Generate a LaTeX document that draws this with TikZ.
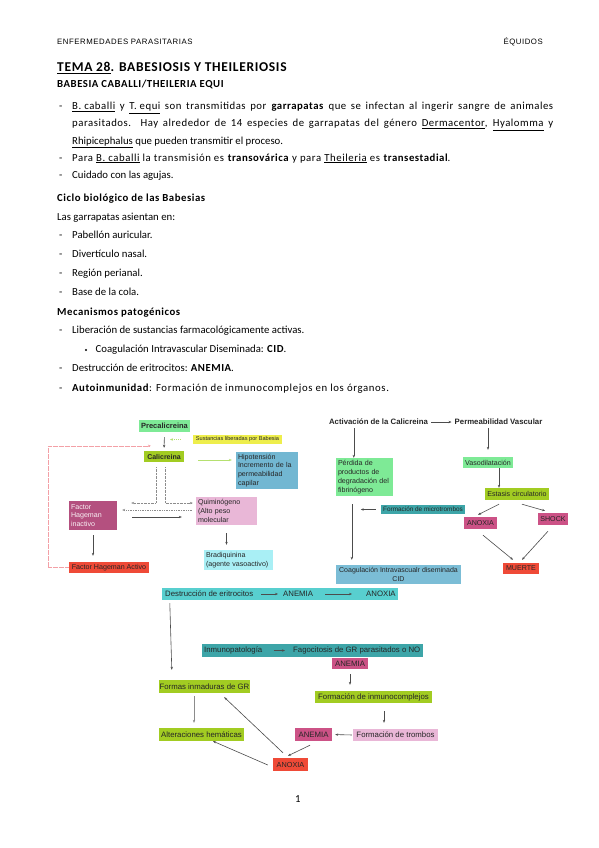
\documentclass[tikz,border=0pt]{standalone}
\usepackage{fontspec}
\setmainfont{Carlito}[BoldFeatures={LetterSpace=5}]
\newfontfamily\diagfamily{Liberation Sans}
\newfontfamily\hdrfamily{Liberation Sans}[LetterSpace=7]
\usetikzlibrary{arrows.meta, calc}
\usepackage{xcolor}

\definecolor{verdeclaro}{HTML}{7EEA96}
\definecolor{amarelo}{HTML}{EEEE4C}
\definecolor{verdelima}{HTML}{A2CC22}
\definecolor{azulaco}{HTML}{72B7D2}
\definecolor{magenta}{HTML}{B4507F}
\definecolor{vermelho}{HTML}{EF4A37}
\definecolor{rosa}{HTML}{E9B7D7}
\definecolor{ciano}{HTML}{A9EFF5}
\definecolor{teal}{HTML}{3DA5A8}
\definecolor{azulcid}{HTML}{7BBDD6}
\definecolor{rosaforte}{HTML}{CC5286}
\definecolor{turquesa}{HTML}{58CFCF}
\definecolor{verdeseta}{HTML}{B5E070}
\definecolor{rosaseta}{HTML}{F3A0A6}

\newcommand{\diag}{\diagfamily\fontsize{7.1}{8.8}\selectfont}
\newcommand{\diagg}{\diagfamily\fontsize{7.8}{9}\selectfont}
\newcommand{\diagb}{\diagfamily\bfseries\fontsize{7.5}{9}\selectfont}
\newcommand{\corpo}{\fontsize{10.75}{13}\selectfont}
\newcommand{\largo}{\addfontfeature{LetterSpace=5}}
\newcommand{\hdr}{\hdrfamily\fontsize{7.8}{9}\selectfont}
\newcommand{\titulo}{\bfseries\fontsize{13.5}{16}\selectfont}

\begin{document}
\begin{tikzpicture}[x=1pt, y=-1pt,
    caixa/.style={inner sep=0pt, font=\diag, text=black!85},
    multi/.style={caixa, align=left},
    txt/.style={anchor=base west, inner sep=0pt, font=\corpo},
    seta/.style={-{Stealth[length=3pt,width=2.4pt]}, draw=black!70, line width=0.6pt},
    pontos/.style={seta, draw=black!45, dash pattern=on 0.7pt off 0.7pt},
    tracos/.style={seta, draw=black!45, dash pattern=on 1.4pt off 1pt}]
    % Fundo
    \fill[white] (0,0) rectangle (599,848);
    \useasboundingbox (0,0) rectangle (599,848);
    % Cabeçalho
    \node[anchor=base west, inner sep=0pt, font=\hdr] (cabl) at (57,44.5) {ENFERMEDADES PARASITARIAS};
    \node[anchor=base east, inner sep=0pt, font=\hdr] (cabr) at (543,44.5) {ÉQUIDOS};
    % Texto
    \node[anchor=base west, inner sep=0pt, font=\titulo] (titulo) at (57,72) {\underline{TEMA 28}. BABESIOSIS Y THEILERIOSIS};
    \node[txt, font=\corpo\bfseries] (sub) at (57,88) {BABESIA CABALLI/THEILERIA EQUI};
    \node[txt] (g1) at (59,110) {-};
    \node[txt, font=\corpo\largo] (l1) at (72,110) {\makebox[481pt][s]{\underline{B. caballi} y \underline{T. equi} son transmitidas por \textbf{garrapatas} que se infectan al ingerir sangre de animales}};
    \node[txt, font=\corpo\largo] (l2) at (72,127) {\makebox[481pt][s]{parasitados.\ \ Hay alrededor de 14 especies de garrapatas del género \underline{Dermacentor}, \underline{Hyalomma} y}};
    \node[txt] (l3) at (72,144) {\underline{Rhipicephalus} que pueden transmitir el proceso.};
    \node[txt] (g2) at (59,161) {-};
    \node[txt, font=\corpo\addfontfeature{LetterSpace=5.5}] (l4) at (72,161) {Para \underline{B. caballi} la transmisión es \textbf{transovárica} y para \underline{Theileria} es \textbf{transestadial}.};
    \node[txt] (g3) at (59,178.5) {-};
    \node[txt] (l5) at (72,178.5) {Cuidado con las agujas.};
    \node[txt, font=\corpo\bfseries] (ciclo) at (57,201.5) {Ciclo biológico de las Babesias};
    \node[txt] (l6) at (57,220) {Las garrapatas asientan en:};
    \node[txt] (g4) at (59,238.5) {-};
    \node[txt] (l7) at (72,238.5) {Pabellón auricular.};
    \node[txt] (g5) at (59,257) {-};
    \node[txt] (l8) at (72,257) {Divertículo nasal.};
    \node[txt] (g6) at (59,276) {-};
    \node[txt] (l9) at (72,276) {Región perianal.};
    \node[txt] (g7) at (59,295) {-};
    \node[txt] (l10) at (72,295) {Base de la cola.};
    \node[txt, font=\corpo\bfseries] (meca) at (57,315) {Mecanismos patogénicos};
    \node[txt] (g8) at (59,333.5) {-};
    \node[txt] (l11) at (72,333.5) {Liberación de sustancias farmacológicamente activas.};
    \fill (86,350) circle (1.1pt);
    \node[txt] (l12) at (95.5,352.5) {Coagulación Intravascular Diseminada: \textbf{CID}.};
    \node[txt] (g9) at (59,371.5) {-};
    \node[txt] (l13) at (72,371.5) {Destrucción de eritrocitos: \textbf{ANEMIA}.};
    \node[txt] (g10) at (59,391) {-};
    \node[txt, font=\corpo\addfontfeature{LetterSpace=6}] (l14) at (72,391) {\textbf{Autoinmunidad}: Formación de inmunocomplejos en los órganos.};
    % Calicreina
    \node[caixa, fill=verdeclaro, minimum width=51pt, minimum height=12pt, font=\diagb] (precal) at (164.5,426) {Precalicreina};
    \node[caixa, fill=amarelo, minimum width=89pt, minimum height=9pt, font=\diagfamily\fontsize{5.6}{6}\selectfont] (sust) at (237.5,439.5) {Sustancias liberadas por Babesia};
    \node[caixa, fill=verdelima, minimum width=40pt, minimum height=11pt, font=\diagfamily\bfseries\fontsize{7}{8}\selectfont] (calic) at (164,456.5) {Calicreina};
    \node[multi, fill=azulaco, minimum width=62pt, minimum height=37pt, text width=58pt] (hipo) at (267,470.5) {Hipotensión\\Incremento de la\\permeabilidad\\capilar};
    \node[multi, fill=magenta, text=white!92!magenta, minimum width=48pt, minimum height=29pt, text width=44pt] (fhi) at (93,515.5) {Factor\\Hageman\\inactivo};
    \node[caixa, fill=vermelho, minimum width=80pt, minimum height=11pt] (fha) at (109,567.5) {Factor Hageman Activo};
    \node[multi, fill=rosa, minimum width=61pt, minimum height=28pt, text width=57pt] (quim) at (226.5,511) {Quiminógeno\\(Alto peso\\molecular};
    \node[multi, fill=ciano, minimum width=69pt, minimum height=20pt, text width=65pt] (bradi) at (238.5,560) {Bradiquinina\\(agente vasoactivo)};
    \coordinate (sustend) at (170,439.5);
    \coordinate (pinkend) at ($(calic.north west)+(7,-5)$);
    \draw[seta, shorten <=5pt, shorten >=3pt] (precal.south) -- (calic.north);
    \draw[seta, draw=verdeseta, dash pattern=on 1pt off 1pt, shorten <=12pt] (sust.west) -- (sustend);
    \draw[seta, draw=verdeseta, line width=0.8pt, shorten <=14pt, shorten >=4pt] ($(calic.east)+(0,3.5)$) -- ($(hipo.west)+(0,-10.5)$);
    \draw[seta, draw=rosaseta, line width=0.5pt, dash pattern=on 0.6pt off 0.6pt] (fha.west) -- ++(-21,0) |- (pinkend);
    \draw[pontos] ($(calic.south)+(-8,5)$) |- ($(fhi.east)+(14,-12.5)$);
    \draw[pontos] ($(calic.south)+(1,5)$) |- ($(quim.west)+(-3,-8)$);
    \draw[tracos] ($(quim.west)+(-4,-1)$) -- ($(fhi.east)+(5,-5.5)$);
    \draw[seta] ($(fhi.east)+(15,1.5)$) -- ($(quim.west)+(-14,6)$);
    \draw[seta, shorten <=5pt, shorten >=6pt] (fhi.south) -- (fhi.south |- fha.north);
    \draw[seta, shorten <=8pt, shorten >=5pt] (quim.south) -- (quim.south |- bradi.north);
    % Permeabilidad vascular
    \node[caixa, font=\diagfamily\bfseries\fontsize{7.8}{9}\selectfont] (activ) at (378.5,422) {Activación de la Calicreina};
    \node[caixa, font=\diagfamily\bfseries\fontsize{7.8}{9}\selectfont] (perm) at (498.5,422) {Permeabilidad Vascular};
    \node[multi, fill=verdeclaro, minimum width=57pt, minimum height=38pt, text width=53pt] (perdida) at (364.5,477) {Pérdida de\\productos de\\degradación del\\fibrinógeno};
    \node[caixa, fill=teal, minimum width=84pt, minimum height=9pt, font=\diagfamily\fontsize{6.4}{7}\selectfont] (micro) at (423,509.5) {Formación de microtrombos};
    \node[caixa, fill=azulcid, minimum width=125pt, minimum height=19pt, align=center, font=\diagfamily\fontsize{7}{8.5}\selectfont] (coag) at (398.5,574.5) {Coagulación Intravascualr diseminada\\CID};
    \node[caixa, fill=verdeclaro, minimum width=50pt, minimum height=11pt] (vaso) at (488,462.5) {Vasodilatación};
    \node[caixa, fill=verdelima, minimum width=64pt, minimum height=12pt] (estasis) at (517,494) {Estasis circulatorio};
    \node[caixa, fill=rosaforte, minimum width=33pt, minimum height=12pt] (anoxia1) at (480.5,523) {ANOXIA};
    \node[caixa, fill=rosaforte, minimum width=30pt, minimum height=12pt] (shock) at (553,519) {SHOCK};
    \node[caixa, fill=vermelho, minimum width=36pt, minimum height=11pt] (muerte) at (521,568.5) {MUERTE};
    \coordinate (pA) at ($(perdida.north west)+(18,0)$);
    \coordinate (pB) at ($(perdida.south west)+(16,0)$);
    \coordinate (vB) at ($(vaso.south)+(11,0)$);
    \draw[seta, shorten <=3pt, shorten >=3pt] (activ.east) -- (perm.west);
    \draw[seta, shorten <=3pt] (pA |- activ.south) -- (pA);
    \draw[seta, shorten <=8pt, shorten >=5pt] (pB) -- (pB |- coag.north);
    \draw[seta, shorten <=5pt] (micro.west) -- ($(pB |- micro.west)+(9,0)$);
    \draw[seta, shorten <=3pt, shorten >=7pt] (perm.south -| vaso.north) -- (vaso.north);
    \draw[seta] (vB) -- (vB |- estasis.north);
    \draw[seta] ($(estasis.south)+(-18,4)$) -- ($(anoxia1.north)+(-2.5,-2)$);
    \draw[seta] ($(estasis.south)+(5,4)$) -- ($(shock.north)+(-8,-2)$);
    \draw[seta] ($(anoxia1.south)+(2.5,6)$) -- ($(muerte.north)+(-8,-3)$);
    \draw[seta] ($(shock.south)+(-5,6)$) -- ($(muerte.north)+(1,-3)$);
    % Destruccion de eritrocitos
    \node[caixa, fill=turquesa, minimum width=236pt, minimum height=12pt] (destr) at (280,594) {};
    \node[caixa, anchor=west, font=\diagg] (d1) at (165,594) {Destrucción de eritrocitos};
    \node[caixa, anchor=west, font=\diagg] (d2) at (283,594) {ANEMIA};
    \node[caixa, anchor=west, font=\diagg] (d3) at (366,594) {ANOXIA};
    \draw[seta, line width=0.5pt, shorten <=8pt, shorten >=5pt] (d1.east) -- (d2.west);
    \draw[seta, line width=0.5pt, shorten <=12pt, shorten >=14pt] (d2.east) -- (d3.west);
    % Inmunopatologia
    \node[caixa, fill=teal, minimum width=221pt, minimum height=13pt] (inmuno) at (312.5,650.5) {};
    \node[caixa, anchor=west, font=\diagg] (i1) at (204,650.5) {Inmunopatología};
    \node[caixa, anchor=west, font=\diagg] (i2) at (293,650.5) {Fagocitosis de GR parasitados o NO};
    \draw[seta, line width=0.5pt, shorten <=11pt, shorten >=8pt] (i1.east) -- (i2.west);
    \node[caixa, fill=rosaforte, minimum width=36pt, minimum height=11pt, font=\diagg] (anemia1) at (350,663.5) {ANEMIA};
    \node[caixa, fill=verdelima, minimum width=91pt, minimum height=13pt, font=\diagg] (formas) at (204.5,686.5) {Formas inmaduras de GR};
    \node[caixa, fill=verdelima, minimum width=117pt, minimum height=12pt, font=\diagg] (inmcomp) at (373.5,697) {Formación de inmunocomplejos};
    \node[caixa, fill=verdelima, minimum width=85pt, minimum height=13pt, font=\diagg] (alter) at (201.5,734.5) {Alteraciones hemáticas};
    \node[caixa, fill=rosaforte, minimum width=37pt, minimum height=13pt, font=\diagg] (anemia2) at (313.5,734.5) {ANEMIA};
    \node[caixa, fill=rosa, minimum width=85pt, minimum height=12pt, font=\diagg] (trombos) at (395.5,735) {Formación de trombos};
    \node[caixa, fill=vermelho, minimum width=35pt, minimum height=13pt, font=\diagfamily\fontsize{7.3}{8}\selectfont] (anoxia2) at (290.5,764.5) {ANOXIA};
    \coordinate (iB) at ($(inmcomp.south)+(10.5,0)$);
    \coordinate (fB) at ($(formas.south)+(-10.5,0)$);
    \draw[seta] ($(destr.south west)+(8,3)$) -- ($(formas.north west)+(13,-10)$);
    \draw[seta, shorten <=5pt, shorten >=6pt] (anemia1.south) -- (anemia1.south |- inmcomp.north);
    \draw[seta, shorten <=8pt, shorten >=6pt] (iB) -- (iB |- trombos.north);
    \draw[seta, draw=black!45, line width=0.4pt, shorten <=3pt, shorten >=5pt] (fB) -- (fB |- alter.north);
    \draw[seta, shorten <=1pt, shorten >=3pt] (trombos.west) -- (anemia2.east);
    \draw[seta] ($(anemia2.south)+(-3.5,4)$) -- ($(anoxia2.north)+(-2.5,-2)$);
    \draw[seta] ($(anoxia2.north)+(-7.5,-5)$) -- ($(formas.south east)+(-26,4)$);
    \draw[seta] ($(anoxia2.west)+(-5,0.5)$) -- ($(alter.south)+(11.5,0)$);
    % Pagina
    \node[txt] (pag) at (295,802) {1};
\end{tikzpicture}
\end{document}
